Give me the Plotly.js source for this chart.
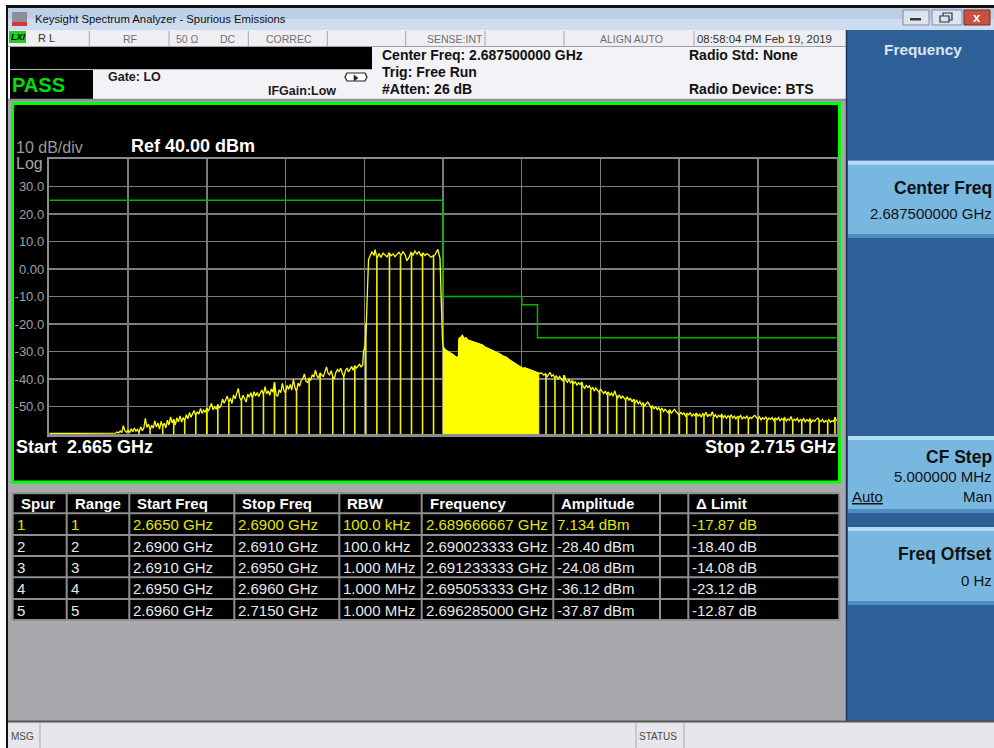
<!DOCTYPE html>
<html><head><meta charset="utf-8">
<script src="https://cdn.plot.ly/plotly-3.0.1.min.js"></script>
<style>html,body{margin:0;padding:0;background:#fff;overflow:hidden}#chart{width:994px;height:748px}</style>
</head><body><div id="chart"></div>
<script>
// ---------------- DATA ----------------
// Spectrum trace pieces (frequency in GHz, level in dBm), read from the screen
const floorFreq  = [2.66500, 2.66910];
const floorLevel = [-59.8, -59.8];
const rampFreq = [
2.6692,2.6693,2.6694,2.6695,2.6696,2.6697,2.6698,2.6699,2.6700,2.6701,
2.6702,2.6703,2.6704,2.6705,2.6706,2.6707,2.6708,2.6709,2.6710,2.6711,
2.6712,2.6713,2.6714,2.6715,2.6716,2.6717,2.6718,2.6719,2.6720,2.6721,
2.6722,2.6723,2.6724,2.6725,2.6726,2.6727,2.6728,2.6729,2.6730,2.6731,
2.6732,2.6733,2.6734,2.6735,2.6736,2.6737,2.6738,2.6739,2.6740,2.6741,
2.6742,2.6743,2.6744,2.6745,2.6746,2.6747,2.6748,2.6749,2.6750,2.6751,
2.6752,2.6753,2.6754,2.6755,2.6756,2.6757,2.6758,2.6759,2.6760,2.6761,
2.6762,2.6763,2.6764,2.6765,2.6766,2.6767,2.6768,2.6769,2.6770,2.6771,
2.6772,2.6773,2.6774,2.6775,2.6776,2.6777,2.6778,2.6779,2.6780,2.6781,
2.6782,2.6783,2.6784,2.6785,2.6786,2.6787,2.6788,2.6789,2.6790,2.6791,
2.6792,2.6793,2.6794,2.6795,2.6796,2.6797,2.6798,2.6799,2.6800,2.6801,
2.6802,2.6803,2.6804,2.6805,2.6806,2.6807,2.6808,2.6809,2.6810,2.6811,
2.6812,2.6813,2.6814,2.6815,2.6816,2.6817,2.6818,2.6819,2.6820,2.6821,
2.6822,2.6823,2.6824,2.6825,2.6826,2.6827,2.6828,2.6829,2.6830,2.6831,
2.6832,2.6833,2.6834,2.6835,2.6836,2.6837,2.6838,2.6839,2.6840,2.6841,
2.6842,2.6843,2.6844,2.6845,2.6846,2.6847,2.6848,2.6849];
const rampLevel = [
-59.7,-59.3,-59.6,-58.9,-59.5,-57.0,-58.8,-59.4,-58.6,-59.5,
-58.1,-59.2,-57.8,-59.0,-58.3,-59.4,-57.4,-58.7,-58.0,-54.3,
-57.6,-56.4,-58.5,-56.8,-57.9,-55.2,-57.5,-56.0,-58.2,-55.4,
-57.3,-56.1,-57.8,-55.0,-56.7,-53.8,-55.9,-54.6,-56.8,-54.1,
-55.6,-53.4,-55.7,-54.0,-55.2,-53.0,-54.5,-52.2,-53.9,-52.6,
-51.5,-53.2,-51.9,-52.8,-50.7,-52.5,-51.3,-52.1,-50.6,-51.7,
-50.0,-48.9,-51.2,-50.1,-51.0,-49.3,-50.6,-49.7,-47.3,-48.8,
-47.6,-46.2,-48.5,-47.0,-48.9,-45.8,-47.2,-45.0,-43.4,-46.8,
-47.9,-45.9,-47.1,-48.4,-45.5,-46.6,-45.0,-47.0,-44.6,-46.2,
-44.9,-46.4,-45.1,-44.0,-45.8,-42.8,-45.4,-44.3,-45.9,-43.6,
-44.8,-41.2,-45.7,-46.3,-43.9,-45.0,-41.6,-44.2,-45.2,-42.3,
-43.7,-42.0,-44.0,-40.1,-43.2,-44.5,-41.5,-42.6,-40.4,-39.8,
-38.2,-40.9,-41.3,-39.6,-40.5,-38.4,-39.3,-36.8,-38.9,-39.7,
-37.8,-38.6,-39.2,-37.4,-35.6,-37.9,-38.5,-37.0,-39.1,-40.0,
-37.6,-36.5,-37.3,-36.1,-38.2,-39.3,-37.0,-36.0,-37.4,-36.6,
-35.5,-36.8,-35.2,-36.0,-35.1,-34.7,-35.6,-34.9];
const carrierFreq = [
2.68495,2.68505,2.68513,2.68519,2.68527,2.68536,2.68549,2.68562,2.68568,2.68581,
2.68594,2.68606,2.68619,2.68632,2.68645,2.68657,2.68670,2.68683,2.68695,2.68708,
2.68721,2.68733,2.68746,2.68759,2.68771,2.68784,2.68797,2.68810,2.68822,2.68835,
2.68848,2.68860,2.68873,2.68886,2.68898,2.68911,2.68924,2.68937,2.68949,2.68967,
2.68975,2.68981,2.68988,2.68992,2.68997];
const carrierLevel = [
-30.2,-27.6,-19.8,-5.2,3.3,4.6,6.3,4.9,7.1,3.9,
5.6,4.2,5.8,5.1,4.4,5.9,4.8,5.5,4.5,5.3,
6.1,4.9,6.3,5.2,3.0,4.2,6.0,5.1,6.5,5.4,
6.4,4.7,5.8,4.9,5.6,5.0,4.3,4.8,5.2,7.13,
5.0,3.9,-10.0,-18.5,-26.0];
// dense (solid yellow) part, ranges 2-4
const denseFreq = [
2.69002,2.69019,2.69038,2.69057,2.69076,2.69089,2.69098,2.69102,2.69114,2.69123,
2.69133,2.69146,2.69159,2.69171,2.69190,2.69209,2.69229,2.69248,2.69267,2.69286,
2.69305,2.69324,2.69343,2.69362,2.69381,2.69400,2.69419,2.69438,2.69457,2.69476,
2.69489,2.69505,2.69521,2.69540,2.69559,2.69578,2.69597,2.69608];
const denseLevel = [
-28.4,-29.6,-30.2,-31.0,-31.5,-32.3,-31.8,-25.2,-24.8,-24.08,
-25.3,-25.0,-25.9,-26.1,-26.6,-26.9,-27.3,-27.6,-28.4,-28.9,
-29.4,-29.8,-30.3,-30.9,-31.7,-32.0,-32.9,-33.6,-34.5,-35.3,
-35.6,-36.12,-36.0,-36.4,-36.8,-37.1,-37.5,-37.9];
const tailFreq = [
2.69628,
2.6964,2.6965,2.6966,2.6967,2.6968,2.6969,2.6970,2.6971,2.6972,2.6973,
2.6974,2.6975,2.6976,2.6977,2.6978,2.6979,2.6980,2.6981,2.6982,2.6983,
2.6984,2.6985,2.6986,2.6987,2.6988,2.6989,2.6990,2.6991,2.6992,2.6993,
2.6994,2.6995,2.6996,2.6997,2.6998,2.6999,2.7000,2.7001,2.7002,2.7003,
2.7004,2.7005,2.7006,2.7007,2.7008,2.7009,2.7010,2.7011,2.7012,2.7013,
2.7014,2.7015,2.7016,2.7017,2.7018,2.7019,2.7020,2.7021,2.7022,2.7023,
2.7024,2.7025,2.7026,2.7027,2.7028,2.7029,2.7030,2.7031,2.7032,2.7033,
2.7034,2.7035,2.7036,2.7037,2.7038,2.7039,2.7040,2.7041,2.7042,2.7043,
2.7044,2.7045,2.7046,2.7047,2.7048,2.7049,2.7050,2.7051,2.7052,2.7053,
2.7054,2.7055,2.7056,2.7057,2.7058,2.7059,2.7060,2.7061,2.7062,2.7063,
2.7064,2.7065,2.7066,2.7067,2.7068,2.7069,2.7070,2.7071,2.7072,2.7073,
2.7074,2.7075,2.7076,2.7077,2.7078,2.7079,2.7080,2.7081,2.7082,2.7083,
2.7084,2.7085,2.7086,2.7087,2.7088,2.7089,2.7090,2.7091,2.7092,2.7093,
2.7094,2.7095,2.7096,2.7097,2.7098,2.7099,2.7100,2.7101,2.7102,2.7103,
2.7104,2.7105,2.7106,2.7107,2.7108,2.7109,2.7110,2.7111,2.7112,2.7113,
2.7114,2.7115,2.7116,2.7117,2.7118,2.7119,2.7120,2.7121,2.7122,2.7123,
2.7124,2.7125,2.7126,2.7127,2.7128,2.7129,2.7130,2.7131,2.7132,2.7133,
2.7134,2.7135,2.7136,2.7137,2.7138,2.7139,2.7140,2.7141,2.7142,2.7143,
2.7144,2.7145,2.7146,2.7147,2.7148,2.7149,2.7150];
const tailLevel = [
-37.87,
-38.6,-38.1,-39.3,-38.4,-37.6,-39.0,-38.5,-39.7,-38.8,-40.2,
-39.1,-39.9,-40.8,-38.6,-40.4,-41.2,-40.1,-41.5,-40.6,-41.8,
-40.9,-42.3,-41.4,-42.0,-41.1,-42.7,-43.4,-42.2,-43.1,-42.5,
-43.9,-43.0,-44.4,-43.3,-44.0,-44.8,-43.7,-44.6,-45.3,-44.4,
-45.6,-44.7,-45.9,-45.1,-46.3,-44.3,-46.0,-46.8,-45.7,-47.1,
-46.2,-46.9,-47.6,-46.5,-47.8,-47.0,-48.3,-47.4,-48.6,-47.8,
-49.0,-48.2,-49.4,-48.7,-49.8,-49.0,-48.4,-49.3,-50.4,-49.8,
-50.9,-50.0,-51.1,-50.4,-51.5,-50.6,-51.8,-51.0,-51.6,-52.3,
-51.2,-52.5,-51.7,-51.0,-51.9,-52.4,-53.1,-52.0,-52.9,-52.3,
-53.4,-52.5,-53.0,-52.2,-53.6,-52.7,-53.3,-52.4,-53.5,-52.8,
-53.9,-52.6,-53.2,-52.1,-53.7,-52.9,-53.4,-51.9,-53.8,-53.0,
-54.1,-53.2,-53.7,-52.9,-54.0,-53.3,-54.3,-53.4,-53.9,-53.1,
-54.2,-53.5,-54.5,-53.6,-54.0,-53.3,-54.6,-53.8,-54.3,-53.5,
-54.7,-53.9,-54.4,-53.6,-53.2,-54.0,-54.5,-53.7,-54.9,-54.1,
-54.6,-53.8,-55.0,-54.2,-54.7,-54.0,-55.1,-54.3,-54.8,-54.0,
-55.2,-54.4,-54.9,-54.1,-55.3,-54.5,-55.0,-53.6,-55.4,-54.6,
-55.1,-54.3,-55.5,-54.7,-55.2,-54.4,-55.6,-54.8,-55.3,-54.5,
-55.7,-54.9,-55.4,-54.6,-54.2,-55.0,-55.5,-54.7,-55.8,-55.1,
-55.6,-54.8,-55.7,-55.2,-55.5,-53.9,-55.3];
// Frequencies where the trace drops to the bottom of the screen (GHz)
const dropoutFreq = [
2.6707,2.6714,2.6722,2.6729,2.6736,2.6743,2.6750,2.6757,2.6764,2.6772,2.6779,2.6786,2.6793,2.6800,
2.6807,2.6815,2.6822,2.6830,2.6837,2.6844,2.6851,2.6858,2.6866,2.6873,2.6880,2.6887,2.6894,
2.69654,2.69711,2.69768,2.69824,2.69881,2.69938,2.69993,2.70046,2.70103,2.70160,2.70215,2.70272,2.70325,
2.70382,2.70437,2.70501,2.70548,2.70607,2.70657,2.70716,2.70770,2.70822,2.70875,2.70939,2.70998,2.71056,
2.71108,2.71165,2.71221,2.71278,2.71331,2.71388,2.71443,2.71489];
// Limit line
const limitFreq  = [2.665, 2.690, 2.695, 2.696, 2.715];
const limitLevel = [25, -10, -13, -25, -25];
// Axis
const freqStart = 2.665, freqStop = 2.715, refLevel = 40, bottomLevel = -60;
const yTickVals = [30, 20, 10, 0, -10, -20, -30, -40, -50];
const yTickText = ['30.0', '20.0', '10.0', '0.00', '-10.0', '-20.0', '-30.0', '-40.0', '-50.0'];
const xTickVals = [2.665,2.670,2.675,2.680,2.685,2.690,2.695,2.700,2.705,2.710,2.715];
// Table
const tableHeader = ['Spur', 'Range', 'Start Freq', 'Stop Freq', 'RBW', 'Frequency', 'Amplitude', '', '\u0394 Limit'];
const spurNo     = ['1', '2', '3', '4', '5'];
const rangeNo    = ['1', '2', '3', '4', '5'];
const startFreq  = ['2.6650 GHz', '2.6900 GHz', '2.6910 GHz', '2.6950 GHz', '2.6960 GHz'];
const stopFreq   = ['2.6900 GHz', '2.6910 GHz', '2.6950 GHz', '2.6960 GHz', '2.7150 GHz'];
const rbw        = ['100.0 kHz', '100.0 kHz', '1.000 MHz', '1.000 MHz', '1.000 MHz'];
const spurFreq   = ['2.689666667 GHz', '2.690023333 GHz', '2.691233333 GHz', '2.695053333 GHz', '2.696285000 GHz'];
const amplitude  = ['7.134 dBm', '-28.40 dBm', '-24.08 dBm', '-36.12 dBm', '-37.87 dBm'];
const blankCol   = ['', '', '', '', ''];
const deltaLimit = ['-17.87 dB', '-18.40 dB', '-14.08 dB', '-23.12 dB', '-12.87 dB'];

const specFreq  = [].concat(floorFreq, rampFreq, carrierFreq, denseFreq, tailFreq);
const specLevel = [].concat(floorLevel, rampLevel, carrierLevel, denseLevel, tailLevel);

// ---------------- LAYOUT HELPERS ----------------
const W = 994, H = 748;
const FONT = 'Liberation Sans, Arial, sans-serif';
const S = [], A = [];
function R(x0, y0, x1, y1, fill, lc, lw, layer) {
  S.push({type: 'rect', xref: 'paper', yref: 'paper', x0: x0 / W, x1: x1 / W, y0: 1 - y1 / H, y1: 1 - y0 / H,
    fillcolor: fill || 'rgba(0,0,0,0)', line: {color: lc || 'rgba(0,0,0,0)', width: lw || 0}, layer: layer || 'below'});
}
function L(x0, y0, x1, y1, c, w, layer) {
  S.push({type: 'line', xref: 'paper', yref: 'paper', x0: x0 / W, x1: x1 / W, y0: 1 - y0 / H, y1: 1 - y1 / H,
    line: {color: c, width: w || 1}, layer: layer || 'below'});
}
function T(x, y, txt, size, color, anchor, weight, fam) {
  A.push({xref: 'paper', yref: 'paper', x: x / W, y: 1 - y / H, text: txt, showarrow: false,
    xanchor: anchor || 'left', yanchor: 'middle', borderpad: 0, borderwidth: 0,
    font: {family: fam || FONT, size: size, color: color, weight: weight || 'normal'}});
}

// window frame
R(6, 5, 994, 748, '#101010');
// title bar
R(8, 8, 994, 19, '#bccfe7');
R(8, 19, 994, 30, '#cddcef');
R(12, 12, 27, 22, '#8e8e96');
R(12, 22, 27, 26, '#d23a3a');
T(35, 19.3, 'Keysight Spectrum Analyzer - Spurious Emissions', 11.3, '#101010');
// window buttons
R(903, 10, 929, 25, '#dbe4ef', '#7d8ca3', 1);
R(910, 18, 921, 20.5, '#3a3a3a');
R(932, 10, 962, 25, '#dbe4ef', '#7d8ca3', 1);
R(943, 13, 952, 20, 'rgba(0,0,0,0)', '#303030', 1.2);
R(940, 16, 949, 22, '#dbe4ef', '#303030', 1.2);
R(964, 10, 990, 25, '#c8513f', '#7a2a1e', 1);
T(977, 17.5, 'x', 13, '#ffffff', 'center', 'bold');
// content background
R(8, 30, 846, 721, '#a9a8ac');
// status row
R(8, 30, 846, 47, '#efeef3');
L(8, 46.5, 846, 46.5, '#a0a0a8', 1);
[89.3, 169, 248.3, 327.3, 405.7, 485, 564, 694].forEach(x => L(x, 31, x, 46, '#a4a4ac', 1));
R(9, 31, 26, 43, '#22d022');
T(11, 37, '<i>LXI</i>', 9, '#000', 'left', 'bold');
T(38, 38, 'R L', 11, '#303030');
T(130, 38.5, 'RF', 10.5, '#707070', 'center');
T(175.7, 38.5, '50 \u03a9', 10.5, '#707070');
T(220, 38.5, 'DC', 10.5, '#707070');
T(265.7, 38.5, 'CORREC', 10.5, '#707070');
T(426.7, 38.5, 'SENSE:INT', 10.5, '#707070');
T(600, 38.5, 'ALIGN AUTO', 10.5, '#707070');
T(697, 38.5, '08:58:04 PM Feb 19, 2019', 11.4, '#303030');
// info area
R(8, 47, 846, 101, '#f3f2f7');
R(10, 47, 372, 69.3, '#000000');
R(10, 70, 93, 99, '#000000');
L(8, 100, 846, 100, '#8f8f95', 2.5);
T(12, 85, 'PASS', 20, '#00e000', 'left', 'bold');
T(108.3, 76.7, 'Gate: LO', 12.5, '#1a1a1a', 'left', 'bold');
T(268.3, 90.7, 'IFGain:Low', 12.5, '#1a1a1a', 'left', 'bold');
S.push({type: 'path', xref: 'paper', yref: 'paper', layer: 'below',
  path: 'M ' + (347 / W) + ',' + (1 - 73 / H) + ' L ' + (365 / W) + ',' + (1 - 73 / H) + ' L ' + (367 / W) + ',' + (1 - 77 / H) +
        ' L ' + (365 / W) + ',' + (1 - 81 / H) + ' L ' + (347 / W) + ',' + (1 - 81 / H) + ' L ' + (345 / W) + ',' + (1 - 77 / H) + ' Z',
  fillcolor: '#ffffff', line: {color: '#202020', width: 1.2}});
S.push({type: 'path', xref: 'paper', yref: 'paper', layer: 'below',
  path: 'M ' + (354 / W) + ',' + (1 - 75 / H) + ' L ' + (358 / W) + ',' + (1 - 78 / H) + ' L ' + (354 / W) + ',' + (1 - 81 / H) + ' Z',
  fillcolor: '#202020', line: {color: '#202020', width: 0.5}});
T(382, 55, 'Center Freq: 2.687500000 GHz', 14, '#111', 'left', 'bold');
T(382, 71.7, 'Trig: Free Run', 14, '#111', 'left', 'bold');
T(382, 89.3, '#Atten: 26 dB', 14, '#111', 'left', 'bold');
T(689, 55, 'Radio Std: None', 14, '#111', 'left', 'bold');
T(689, 89.3, 'Radio Device: BTS', 14, '#111', 'left', 'bold');
// graph window with green border
R(12.5, 103.5, 839.5, 482, '#000000', '#00ff00', 3);
T(16, 147, '10 dB/div', 16, '#9c9c9c');
T(130.7, 146, 'Ref 40.00 dBm', 18, '#ffffff', 'left', 'bold');
T(16, 163.5, 'Log', 16, '#a8a8a8');
T(16, 447, 'Start\u00a0\u00a02.665 GHz', 18, '#ffffff', 'left', 'bold');
T(835.5, 447, 'Stop 2.715 GHz', 18, '#ffffff', 'right', 'bold');
// right softkey panel
R(846, 30, 994, 721, '#2f5f97');
L(846.5, 30, 846.5, 721, '#1b3458', 1.5);
T(922.8, 49.3, 'Frequency', 15.4, '#dbe6f2', 'center', 'bold');
function button(y0, y1) {
  R(848, y0, 994, y1, '#78b8e0');
  R(848, y0, 994, y0 + 4, '#b4dcf2');
  R(848, y1 - 4, 994, y1, '#4f8cc0');
}
button(160.7, 238); button(436, 513); button(527, 605);
T(991.7, 188.3, 'Center Freq', 17.5, '#111', 'right', 'bold');
T(991.7, 213.3, '2.687500000 GHz', 15, '#111', 'right');
T(991.7, 457.3, 'CF Step', 17.5, '#111', 'right', 'bold');
T(991.7, 476, '5.000000 MHz', 15, '#111', 'right');
T(851.7, 496, '<u>Auto</u>', 15, '#111', 'left');
T(991.7, 496, 'Man', 15, '#111', 'right');
T(991.7, 554, 'Freq Offset', 17.5, '#111', 'right', 'bold');
T(991.7, 580, '0 Hz', 15, '#111', 'right');
// bottom message bar
R(8, 721, 994, 748, '#e7e6eb');
L(8, 721.5, 994, 721.5, '#555555', 2);
[40, 636, 684].forEach(x => L(x, 723, x, 748, '#a8a8b0', 1));
T(11, 736, 'MSG', 10, '#4a4a4a');
T(638.5, 736, 'STATUS', 10, '#4a4a4a');

// ---------------- TABLE (shapes + text built from the arrays) ----------------
const colEdges = [12.7, 66.7, 129.3, 234.3, 339.3, 421.7, 553.3, 660, 688.3, 839.3];
const rowEdges = [493.3, 513.3, 535, 556, 577.3, 599, 620];
R(colEdges[0], rowEdges[0], colEdges[9], rowEdges[6], '#000000');
rowEdges.forEach(y => L(colEdges[0], y, colEdges[9], y, '#8e8e8e', 2));
colEdges.forEach(x => L(x, rowEdges[0], x, rowEdges[6], '#8e8e8e', 2));
const columns = [spurNo, rangeNo, startFreq, stopFreq, rbw, spurFreq, amplitude, blankCol, deltaLimit];
tableHeader.forEach((h, c) => {
  if (h) T(colEdges[c] + 8, (rowEdges[0] + rowEdges[1]) / 2 + 0.5, h, 15, '#ffffff', 'left', 'bold');
});
columns.forEach((col, c) => {
  col.forEach((v, r) => {
    if (v) T(colEdges[c] + 4, (rowEdges[r + 1] + rowEdges[r + 2]) / 2 + 0.5, v, 15, r === 0 ? '#e6e600' : '#e8e8e8');
  });
});

// ---------------- TRACES ----------------
function nearestLevel(f) {
  let best = 0, bd = Infinity;
  for (let i = 0; i < specFreq.length; i++) {
    const d = Math.abs(specFreq[i] - f);
    if (d < bd) { bd = d; best = i; }
  }
  return specLevel[best];
}
const dropX = [], dropY = [];
dropoutFreq.forEach(f => { dropX.push(f, f, null); dropY.push(bottomLevel, nearestLevel(f), null); });

const solidX = [denseFreq[0]].concat(denseFreq, [denseFreq[denseFreq.length - 1]]);
const solidY = [bottomLevel].concat(denseLevel, [bottomLevel]);

const traces = [
  {x: solidX, y: solidY, type: 'scatter', mode: 'lines', fill: 'toself', fillcolor: '#ffff00',
   line: {color: '#ffff00', width: 1}, hoverinfo: 'skip'},
  {x: dropX, y: dropY, type: 'scatter', mode: 'lines', line: {color: '#f2f200', width: 1.6}, hoverinfo: 'skip'},
  {x: specFreq, y: specLevel, type: 'scatter', mode: 'lines', line: {color: '#ffff00', width: 1.3}},
  {x: limitFreq, y: limitLevel, type: 'scatter', mode: 'lines', line: {color: '#00b400', width: 1.5, shape: 'hv'}}
];

const layout = {
  width: W, height: H,
  margin: {l: 0, r: 0, t: 0, b: 0, pad: 0},
  paper_bgcolor: '#ffffff', plot_bgcolor: '#000000',
  showlegend: false,
  xaxis: {domain: [49.3 / W, 836.7 / W], range: [freqStart, freqStop], tickvals: xTickVals, showticklabels: false,
          showgrid: true, gridcolor: '#7c7c7c', gridwidth: 1.5, zeroline: false, ticks: '',
          showline: true, mirror: true, linecolor: '#8c8c8c', linewidth: 2.5},
  yaxis: {domain: [1 - 434 / H, 1 - 159 / H], range: [bottomLevel, refLevel], tickvals: yTickVals, ticktext: yTickText,
          showgrid: true, gridcolor: '#7c7c7c', gridwidth: 1.5, zeroline: false, ticks: '',
          showline: true, mirror: true, linecolor: '#8c8c8c', linewidth: 2.5,
          tickfont: {family: FONT, size: 13, color: '#a0a0a0'}},
  shapes: S,
  annotations: A
};
Plotly.newPlot('chart', traces, layout, {staticPlot: true, displayModeBar: false});
</script></body></html>
